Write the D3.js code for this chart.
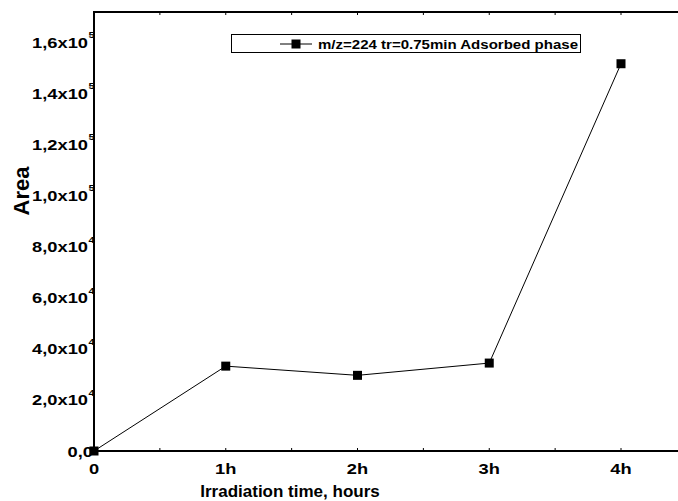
<!DOCTYPE html>
<html><head><meta charset="utf-8">
<script src="https://cdn.jsdelivr.net/npm/d3@7"></script>
<style>body{margin:0;background:#fff}svg{display:block}text{font-family:"Liberation Sans",Arial,sans-serif;font-weight:bold;fill:#000}</style>
</head><body>
<svg id="c" width="678" height="501"></svg>
<script>
const hours = [0, 1, 2, 3, 4];
const areas = [0, 33200, 29600, 34400, 151500];
const xTickLabels = ["0", "1h", "2h", "3h", "4h"];
const yTickValues = [0, 20000, 40000, 60000, 80000, 100000, 120000, 140000, 160000];
const yTickMantissa = ["0,0", "2,0x10", "4,0x10", "6,0x10", "8,0x10", "1,0x10", "1,2x10", "1,4x10", "1,6x10"];
const yTickExp = ["", "4", "4", "4", "4", "5", "5", "5", "5"];
const legendLabel = "m/z=224 tr=0.75min Adsorbed phase";

const svg = d3.select("#c");
const L = 94, B = 451, T = 12;
const x = d3.scaleLinear().domain([0, 4]).range([L, 621]);
const y = d3.scaleLinear().domain([0, 160000]).range([B, 42]);
const xMax = 4.6;
const SX = 1.22;

svg.append("line").attr("x1", L).attr("x2", x(xMax)).attr("y1", B).attr("y2", B).attr("stroke", "#000").attr("stroke-width", 2);
svg.append("line").attr("x1", L).attr("x2", x(xMax)).attr("y1", T).attr("y2", T).attr("stroke", "#000").attr("stroke-width", 2);
svg.append("line").attr("x1", L).attr("x2", L).attr("y1", T - 1).attr("y2", B + 1).attr("stroke", "#000").attr("stroke-width", 2);

const xt = d3.range(0, 10).map(d => d / 2);
svg.append("g").selectAll("line").data(xt).join("line")
  .attr("x1", d => x(d)).attr("x2", d => x(d)).attr("y1", B).attr("y2", B - 3).attr("stroke", "#000").attr("stroke-width", 1);
svg.append("g").selectAll("line").data(xt).join("line")
  .attr("x1", d => x(d)).attr("x2", d => x(d)).attr("y1", T).attr("y2", T + 3).attr("stroke", "#000").attr("stroke-width", 1);

svg.append("g").selectAll("text").data(hours).join("text")
  .attr("transform", d => `translate(${x(d)},474) scale(${SX},1)`).attr("text-anchor", "middle").attr("font-size", 15)
  .text((d, i) => xTickLabels[i]);

const yl = svg.append("g").selectAll("g").data(yTickValues).join("g");
yl.append("text").attr("transform", (d, i) => `translate(${yTickExp[i] ? 88 : 93},${y(d) + 5.5}) scale(${SX},1)`)
  .attr("text-anchor", "end").attr("font-size", 15).text((d, i) => yTickMantissa[i]);
yl.append("text").attr("transform", d => `translate(88.5,${y(d) - 4}) scale(${SX},1)`).attr("font-size", 9).text((d, i) => yTickExp[i]);

svg.append("text").attr("x", 290).attr("y", 497).attr("text-anchor", "middle").attr("font-size", 17).text("Irradiation time, hours");
svg.append("text").attr("transform", "translate(29,191) rotate(-90)").attr("text-anchor", "middle").attr("font-size", 22).text("Area");

const line = d3.line().x((d, i) => x(hours[i])).y(d => y(d));
svg.append("path").datum(areas).attr("d", line).attr("fill", "none").attr("stroke", "#000").attr("stroke-width", 1);
svg.append("g").selectAll("rect").data(areas).join("rect")
  .attr("x", (d, i) => x(hours[i]) - 4.5).attr("y", d => y(d) - 4.5).attr("width", 9).attr("height", 9).attr("fill", "#000");

svg.append("rect").attr("x", 231.5).attr("y", 34.5).attr("width", 349).attr("height", 18).attr("fill", "#fff").attr("stroke", "#000").attr("stroke-width", 1);
svg.append("line").attr("x1", 280).attr("x2", 312).attr("y1", 44).attr("y2", 44).attr("stroke", "#000");
svg.append("rect").attr("x", 291.5).attr("y", 39.5).attr("width", 9).attr("height", 9).attr("fill", "#000");
svg.append("text").attr("x", 318).attr("y", 48.5).attr("font-size", 12).attr("textLength", 260).attr("lengthAdjust", "spacingAndGlyphs").text(legendLabel);
</script>
</body></html>
